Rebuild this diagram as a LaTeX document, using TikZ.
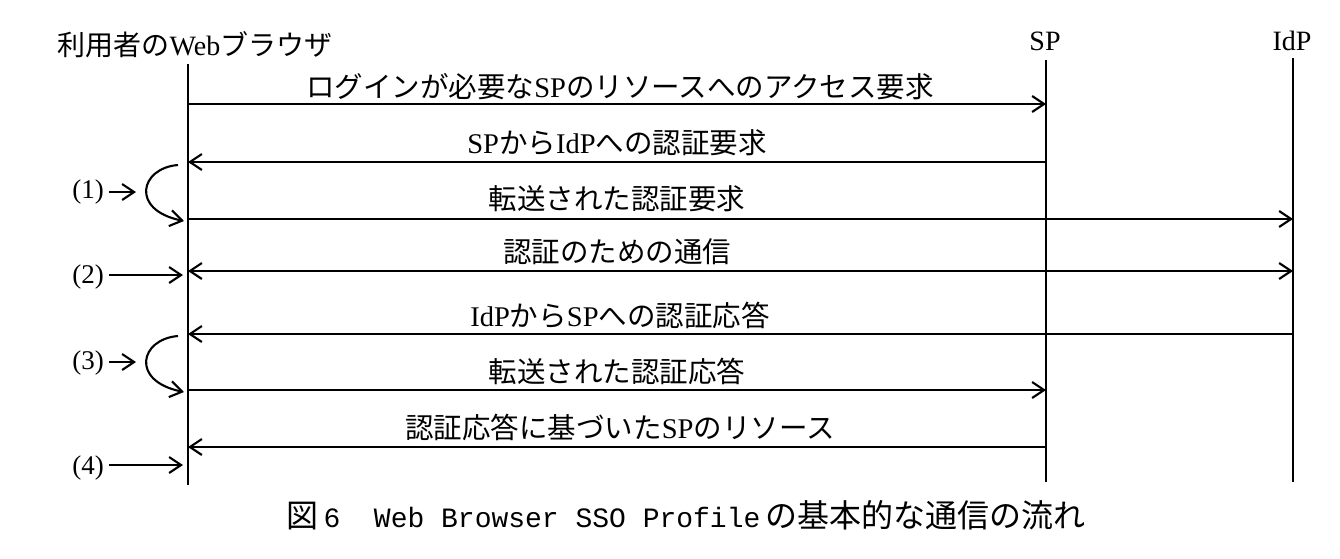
\documentclass[tikz,border=0pt]{standalone}
\usepackage{fontspec}
\setmainfont{Liberation Serif}
\newfontfamily\jp{Noto Sans CJK JP}
\newfontfamily\mono{Liberation Mono}
\usetikzlibrary{arrows.meta}
\newcommand{\J}[1]{{\jp #1}}
\begin{document}
\begin{tikzpicture}[x=1pt,y=-1pt,
  lifeline/.style={line width=2pt},
  msg/.style={line width=2.1pt,-{Straight Barb[length=12pt,width=16pt]}},
  dmsg/.style={line width=2.1pt,{Straight Barb[length=12pt,width=16pt]}-{Straight Barb[length=12pt,width=16pt]}},
  lbl/.style={inner sep=0pt,font=\fontsize{28.5}{34}\selectfont},
  head/.style={inner sep=0pt,font=\fontsize{28}{34}\selectfont},
  num/.style={inner sep=0pt,font=\fontsize{27}{32}\selectfont},
  captext/.style={inner sep=0pt}
]
\useasboundingbox (0,0) rectangle (1340,558);

% lifeline heads
\node[head] (hB) at (195,45) {\J{利用者の}Web\J{ブラウザ}};
\node[head] (hS) at (1045,41) {SP};
\node[head] (hI) at (1292,41) {IdP};

% lifelines
\coordinate (bT) at (188,64);  \coordinate (bB) at (188,485);
\coordinate (sT) at (1046,60); \coordinate (sB) at (1046,482);
\coordinate (iT) at (1293,58); \coordinate (iB) at (1293,482);
\draw[lifeline] (bT) -- (bB);
\draw[lifeline] (sT) -- (sB);
\draw[lifeline] (iT) -- (iB);

% message end points
\coordinate (b1) at (188,104); \coordinate (s1) at (1046,104);
\coordinate (b2) at (188,162); \coordinate (s2) at (1046,162);
\coordinate (b3) at (188,219); \coordinate (i3) at (1293,219);
\coordinate (b4) at (188,271); \coordinate (i4) at (1293,271);
\coordinate (b5) at (188,334); \coordinate (i5) at (1293,334);
\coordinate (b6) at (188,390); \coordinate (s6) at (1046,390);
\coordinate (b7) at (188,447); \coordinate (s7) at (1046,447);

\draw[msg] (b1) -- (s1);
\draw[msg] (s2) -- (b2);
\draw[msg] (b3) -- (i3);
\draw[dmsg] (b4) -- (i4);
\draw[msg] (i5) -- (b5);
\draw[msg] (b6) -- (s6);
\draw[msg] (s7) -- (b7);

% labels
\node[lbl] (m1) at (620,87) {\J{ログインが必要な}SP\J{のリソースへのアクセス要求}};
\node[lbl] (m2) at (617,143) {SP\J{から}IdP\J{への認証要求}};
\node[lbl] (m3) at (617,199) {\J{転送された認証要求}};
\node[lbl] (m4) at (617,252) {\J{認証のための通信}};
\node[lbl] (m5) at (620,315) {IdP\J{から}SP\J{への認証応答}};
\node[lbl] (m6) at (617,371) {\J{転送された認証応答}};
\node[lbl] (m7) at (620,427) {\J{認証応答に基づいた}SP\J{のリソース}};

% curved redirects
\coordinate (c1s) at (178,165); \coordinate (c1e) at (184,221);
\coordinate (c3s) at (178,336); \coordinate (c3e) at (184,392);
\draw[msg] (c1s) .. controls (140,168) and (130,210) .. (c1e);
\draw[msg] (c3s) .. controls (140,339) and (130,381) .. (c3e);

% step markers
\node[num] (n1) at (88,192) {(1)};
\node[num] (n2) at (88,277) {(2)};
\node[num] (n3) at (88,363) {(3)};
\node[num] (n4) at (88,468) {(4)};
\coordinate (a1s) at (109,192); \coordinate (a1) at (136,192);
\coordinate (a2s) at (109,275); \coordinate (a2) at (183,275);
\coordinate (a3s) at (109,362); \coordinate (a3) at (136,362);
\coordinate (a4s) at (109,465); \coordinate (a4) at (183,465);
\draw[msg] (a1s) -- (a1);
\draw[msg] (a2s) -- (a2);
\draw[msg] (a3s) -- (a3);
\draw[msg] (a4s) -- (a4);

% caption
\node[captext] (caption) at (686,515) {\fontsize{32}{38}\selectfont\J{図}\kern5pt{\mono\fontsize{28}{34}\selectfont 6\ \ Web Browser SSO Profile}\kern5pt\J{の基本的な通信の流れ}};
\end{tikzpicture}
\end{document}
